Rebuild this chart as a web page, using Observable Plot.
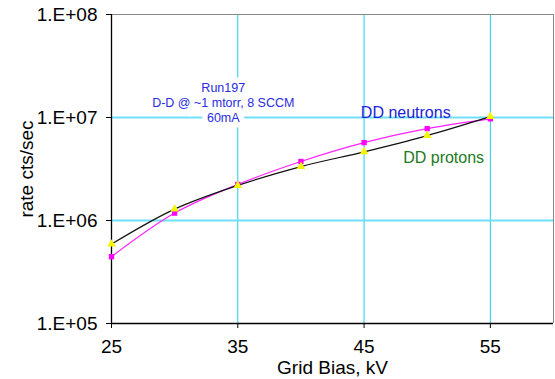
<!DOCTYPE html>
<html>
<head>
<meta charset="utf-8">
<script src="https://cdn.jsdelivr.net/npm/d3@7"></script>
<script src="https://cdn.jsdelivr.net/npm/@observablehq/plot@0.6"></script>
<style>
  html, body { margin: 0; padding: 0; background: #fff; }
  svg { display: block; }
</style>
</head>
<body>
<div id="chart"></div>
<script>
const bias = [25, 30, 35, 40, 45, 50, 55];
const neutrons = [4.45e5, 1.18e6, 2.24e6, 3.74e6, 5.7e6, 7.8e6, 9.7e6];
const protons = [5.9e5, 1.29e6, 2.19e6, 3.34e6, 4.64e6, 6.68e6, 1.02e7];
const xTicks = [25, 35, 45, 55];
const yTicks = [1e5, 1e6, 1e7, 1e8];
const xGrid = [35, 45, 55];
const yGrid = [1e6, 1e7];
const annotation = ["Run197", "D-D @ ~1 mtorr, 8 SCCM", "60mA"];
const seriesLabels = [
  {name: "DD neutrons", x: 48.3, y: 1.12e7},
  {name: "DD protons", x: 51.3, y: 4.1e6}
];

const nData = bias.map((b, i) => ({x: b, y: neutrons[i]}));
const pData = bias.map((b, i) => ({x: b, y: protons[i]}));
const fmt = d => "1.E+" + String(Math.round(Math.log10(d))).padStart(2, "0");
const annText = annotation.join("\n");
const annOpts = {x: 33.85, y: 1.42e7, text: d => d, fontSize: 12.5, lineHeight: 1.2, lineAnchor: "middle"};

const chart = Plot.plot({
  width: 555,
  height: 379,
  marginLeft: 111,
  marginRight: 2,
  marginTop: 14,
  marginBottom: 56,
  style: {fontFamily: "Liberation Sans, Arial, sans-serif", fontSize: "19px", color: "#000", background: "#fff"},
  x: {domain: [25, 60]},
  y: {type: "log", domain: [1e5, 1e8]},
  marks: [
    Plot.ruleX(xGrid, {stroke: "#22ccee", strokeWidth: 1}),
    Plot.ruleY(yGrid, {stroke: "#6fe0f7", strokeWidth: 2}),
    Plot.text([annText], {...annOpts, fill: "white", stroke: "white", strokeWidth: 11, strokeLinejoin: "miter"}),
    Plot.text([annText], {...annOpts, fill: "#2a2ae0"}),
    Plot.ruleY([1e8], {stroke: "#888"}),
    Plot.ruleX([60], {stroke: "#888"}),
    Plot.axisX({ticks: xTicks, tickSize: 5, tickPadding: 11, fontSize: 19, label: "Grid Bias, kV", labelAnchor: "center", labelOffset: 50, labelArrow: "none"}),
    Plot.axisY({ticks: yTicks, tickFormat: fmt, tickSize: 5, tickPadding: 9, fontSize: 19, label: "rate cts/sec", labelAnchor: "center", labelOffset: 92, labelArrow: "none"}),
    Plot.ruleX([25], {stroke: "#000", strokeWidth: 1.3}),
    Plot.ruleY([1e5], {stroke: "#000", strokeWidth: 1.3}),
    Plot.line(nData, {x: "x", y: "y", stroke: "#ff22ff", strokeWidth: 1.2, curve: "catmull-rom"}),
    Plot.line(pData, {x: "x", y: "y", stroke: "#111", strokeWidth: 1.2, curve: "catmull-rom"}),
    Plot.dot(nData, {x: "x", y: "y", symbol: "square", fill: "#ff00ff", r: 3}),
    Plot.dot(pData, {x: "x", y: "y", symbol: "triangle", fill: "#f5f500", r: 3.2}),
    Plot.text(seriesLabels, {x: "x", y: "y", text: "name", fontSize: 16, lineAnchor: "middle",
      fill: (d, i) => i === 0 ? "#2222d8" : "#1d7a1d"})
  ]
});
document.getElementById("chart").appendChild(chart);
</script>
</body>
</html>
